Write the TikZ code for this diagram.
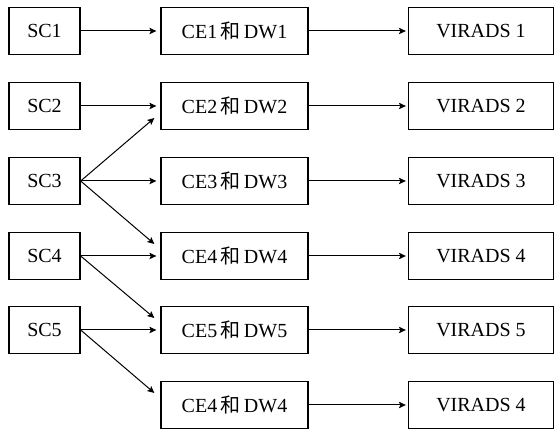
\documentclass[tikz,border=0pt]{standalone}
\usepackage{fontspec}
\setmainfont{Liberation Serif}
\newfontfamily\cjk{Noto Sans CJK SC}
\usetikzlibrary{arrows.meta}
\begin{document}
\begin{tikzpicture}[x=1pt,y=1pt,
  box/.style={draw=black,line width=1.3pt,rectangle,inner sep=0pt,minimum height=47pt,
    font=\fontsize{20}{24}\selectfont},
  scbox/.style={box,minimum width=71pt},
  cebox/.style={box,minimum width=147pt},
  vbox/.style={box,minimum width=145pt},
  conn/.style={line width=1pt,-{Stealth[length=7pt,width=6.5pt,inset=1.5pt]}}]
\useasboundingbox[fill=white] (0,0) rectangle (555,429);
\foreach \i/\y in {1/398,2/323,3/248,4/173,5/99}{
  \node[scbox] (sc\i) at (44.5,\y) {SC\i};
}
\foreach \i/\y/\n in {1/398/1,2/323/2,3/248/3,4/173/4,5/99/5,6/24/4}{
  \node[cebox] (ce\i) at (234.5,\y) {CE\n\,{\cjk 和}\,DW\n};
  \node[vbox] (v\i) at (481,\y) {VIRADS \n};
  \draw[conn] (ce\i.east) -- ([xshift=-2pt]v\i.west);
}
\foreach \i in {1,...,5}{
  \draw[conn] (sc\i.east) -- ([xshift=-4pt]ce\i.west);
}
\draw[conn] (sc3.east) -- ([xshift=-6pt,yshift=-12pt]ce2.west);
\draw[conn] (sc3.east) -- ([xshift=-6pt,yshift=12pt]ce4.west);
\draw[conn] (sc4.east) -- ([xshift=-6pt,yshift=12pt]ce5.west);
\draw[conn] (sc5.east) -- ([xshift=-6pt,yshift=12pt]ce6.west);
\end{tikzpicture}
\end{document}
